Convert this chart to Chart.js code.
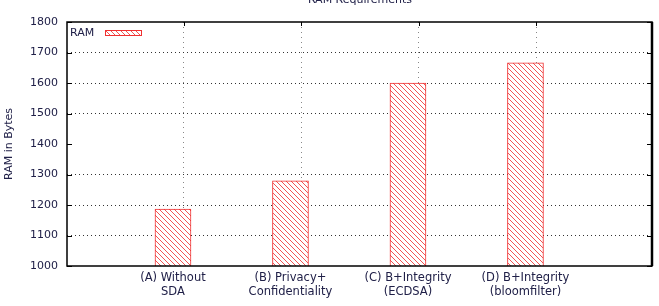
<!DOCTYPE html>
<html>
<head>
<meta charset="utf-8">
<script src="https://cdn.jsdelivr.net/npm/chart.js@4/dist/chart.umd.min.js"></script>
<style>html,body{margin:0;padding:0;background:#fff;}canvas{display:block;}</style>
</head>
<body>
<canvas id="c" width="659" height="306"></canvas>
<script>
const categories = [
  ["(A) Without", "SDA"],
  ["(B) Privacy+", "Confidentiality"],
  ["(C) B+Integrity", "(ECDSA)"],
  ["(D) B+Integrity", "(bloomfilter)"]
];
const ramValues = [1187, 1279, 1600, 1666];
const seriesLabel = "RAM";
const chartTitle = "RAM Requirements";
const yAxisTitle = "RAM in Bytes";
const yMin = 1000, yMax = 1800, yStep = 100;
const xMin = 0.098, xMax = 5.077;
const gridOffset = 0.09;
const hiddenGridValue = 1400;

const textColor = '#202048';
const FONT = 'DejaVu Sans';

function hatch() {
  const c = document.createElement('canvas');
  c.width = 5; c.height = 5;
  const g = c.getContext('2d');
  g.fillStyle = '#fff'; g.fillRect(0, 0, 5, 5);
  g.strokeStyle = 'rgba(240,40,40,0.8)';
  g.lineWidth = 1;
  g.beginPath(); g.moveTo(-1, -1); g.lineTo(6, 6); g.stroke();
  g.beginPath(); g.moveTo(-1, 4); g.lineTo(1, 6); g.stroke();
  g.beginPath(); g.moveTo(4, -1); g.lineTo(6, 1); g.stroke();
  return g.createPattern(c, 'repeat');
}
const pattern = hatch();

const frame = {
  id: 'frame',
  afterDraw(chart) {
    const { ctx, chartArea: a, scales } = chart;
    ctx.save();
    ctx.fillStyle = textColor;
    ctx.font = '11px "' + FONT + '"';
    ctx.textAlign = 'center';
    ctx.textBaseline = 'middle';
    ctx.fillText(chartTitle, 360, 0);
    ctx.strokeStyle = '#000';
    ctx.lineWidth = 1.5;
    ctx.strokeRect(a.left, a.top, a.right - a.left, a.bottom - a.top);
    ctx.lineWidth = 2.5;
    ctx.beginPath(); ctx.moveTo(a.right, a.top); ctx.lineTo(a.right, a.bottom); ctx.stroke();
    ctx.lineWidth = 1;
    scales.y.ticks.forEach(t => {
      const y = Math.round(scales.y.getPixelForValue(t.value)) + 0.5;
      ctx.beginPath(); ctx.moveTo(a.left, y); ctx.lineTo(a.left + 5, y);
      ctx.moveTo(a.right, y); ctx.lineTo(a.right - 5, y); ctx.stroke();
    });
    scales.x2.ticks.forEach(t => {
      const x = Math.round(scales.x2.getPixelForValue(t.value)) + 0.5;
      ctx.beginPath(); ctx.moveTo(x, a.top); ctx.lineTo(x, a.top + 4); ctx.stroke();
    });
    const ds = chart.data.datasets[0];
    ctx.fillStyle = textColor;
    ctx.textAlign = 'left';
    ctx.fillText(ds.label, a.left + 3, a.top + 11);
    ctx.fillStyle = pattern;
    ctx.fillRect(a.left + 38, a.top + 8, 36, 5);
    ctx.strokeStyle = '#f03030';
    ctx.lineWidth = 1;
    ctx.strokeRect(a.left + 38.5, a.top + 8.5, 36, 5);
    ctx.restore();
  }
};

new Chart(document.getElementById('c'), {
  type: 'bar',
  data: {
    datasets: [{
      label: seriesLabel,
      data: ramValues.map((v, i) => ({ x: i + 1, y: v })),
      backgroundColor: pattern,
      borderColor: '#f03030',
      borderWidth: 1,
      barThickness: 36,
      xAxisID: 'x',
      yAxisID: 'y'
    }]
  },
  options: {
    responsive: false,
    devicePixelRatio: 1,
    animation: false,
    layout: { padding: { top: 22, right: 7, left: 0, bottom: 0 } },
    plugins: { legend: { display: false }, title: { display: false }, tooltip: { enabled: false } },
    scales: {
      x: {
        type: 'linear',
        position: 'bottom',
        min: xMin, max: xMax,
        bounds: 'data',
        offset: false,
        afterBuildTicks: s => { s.ticks = categories.map((c, i) => ({ value: i + 1 })); },
        afterFit: s => { s.height = 40; },
        grid: { display: false, offset: false },
        border: { display: false },
        ticks: {
          autoSkip: false,
          maxRotation: 0,
          padding: -3,
          color: textColor,
          font: { family: FONT, size: 11.5, lineHeight: 1.22 },
          callback: v => categories[Math.round(v) - 1]
        }
      },
      x2: {
        type: 'linear',
        position: 'bottom',
        min: xMin, max: xMax,
        bounds: 'data',
        offset: false,
        afterBuildTicks: s => { s.ticks = categories.map((c, i) => ({ value: i + 1 + gridOffset })); },
        afterFit: s => { s.height = 0; },
        ticks: { display: false, autoSkip: false },
        border: { display: false, dash: [1, 4] },
        grid: { color: '#888', lineWidth: 1, drawTicks: false, offset: false }
      },
      y: {
        min: yMin, max: yMax,
        afterFit: s => { s.width = 67; },
        border: { display: false, dash: [1, 3] },
        grid: {
          drawTicks: false,
          lineWidth: 1,
          color: c => (c.tick && (c.tick.value === hiddenGridValue || c.tick.value === yMin || c.tick.value === yMax)) ? 'rgba(0,0,0,0)' : '#333'
        },
        ticks: {
          stepSize: yStep,
          padding: 9,
          color: textColor,
          font: { family: FONT, size: 11 },
          callback: v => String(v)
        },
        title: {
          display: true,
          text: yAxisTitle,
          color: textColor,
          font: { family: FONT, size: 11 },
          padding: { top: 3, bottom: 0 }
        }
      }
    }
  },
  plugins: [frame]
});
</script>
</body>
</html>
